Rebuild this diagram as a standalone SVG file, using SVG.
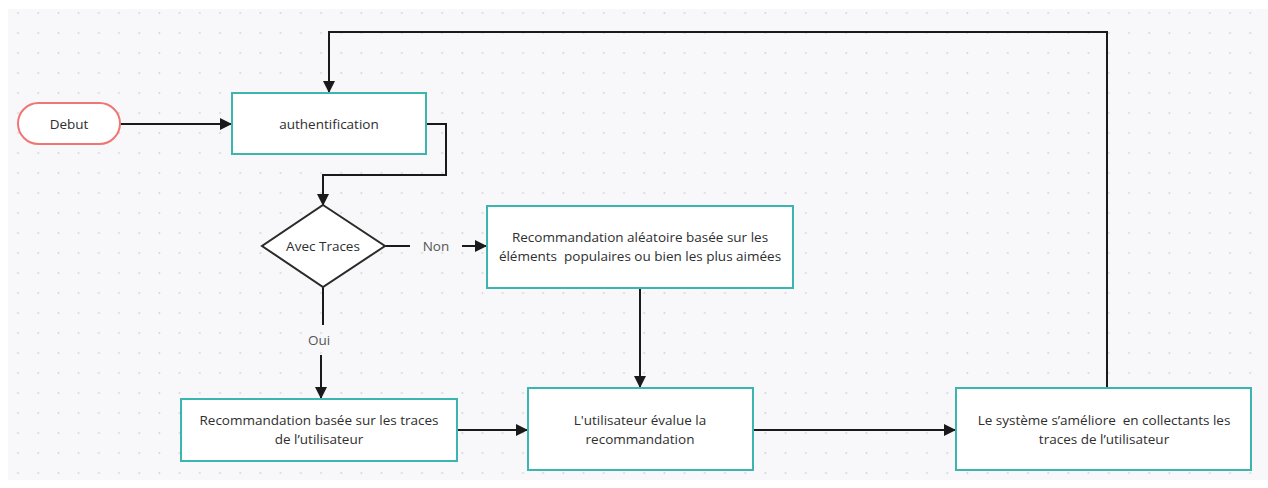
<svg xmlns="http://www.w3.org/2000/svg" width="1268" height="488" viewBox="0 0 1268 488">
<defs>
<pattern id="dots" x="8" y="3" width="20.2" height="20" patternUnits="userSpaceOnUse">
<circle cx="10" cy="10" r="1" fill="#d6d6dd"/>
</pattern>
<marker id="arr" viewBox="0 0 12 12" refX="11" refY="6" markerWidth="12" markerHeight="12" markerUnits="userSpaceOnUse" orient="auto">
<path d="M0,0 L12,6 L0,12 Z" fill="#1a1a1a"/>
</marker>
</defs>
<style>
.box{fill:#fff;stroke:#3bb5b0;stroke-width:2}
.start{fill:#fff;stroke:#f07575;stroke-width:2}
.dia{fill:#fff;stroke:#2a2a2a;stroke-width:2}
.t{font-family:"Open Sans","Noto Sans","Liberation Sans",sans-serif;font-size:13.5px;fill:#2e2e2e;text-anchor:middle;white-space:pre}
.lbl{font-family:"Open Sans","Noto Sans","Liberation Sans",sans-serif;font-size:13.5px;fill:#555;text-anchor:middle}
.c{fill:none;stroke:#1a1a1a;stroke-width:2}
</style>
<rect width="1268" height="488" fill="#fff"/>
<rect x="8" y="9" width="1260" height="471" fill="#f8f8fa"/>
<rect x="8" y="9" width="1260" height="471" fill="url(#dots)"/>

<g id="connectors">
<path class="c" d="M120,124 H231" marker-end="url(#arr)"/>
<path class="c" d="M426,124 H446 V175 H323 V205" marker-end="url(#arr)"/>
<path class="c" d="M1107,388 V32 H329 V92" marker-end="url(#arr)"/>
<path class="c" d="M385,246 H410"/>
<path class="c" d="M462,246 H486" marker-end="url(#arr)"/>
<text class="lbl" x="436" y="251">Non</text>
<path class="c" d="M323,287 V325"/>
<path class="c" d="M321,355 V398" marker-end="url(#arr)"/>
<text class="lbl" x="319" y="345">Oui</text>
<path class="c" d="M640,288 V387" marker-end="url(#arr)"/>
<path class="c" d="M457,430 H527" marker-end="url(#arr)"/>
<path class="c" d="M753,430 H955" marker-end="url(#arr)"/>
</g>

<g id="debut">
<rect class="start" x="18" y="103" width="102" height="41" rx="20.5"/>
<text class="t" x="69" y="129">Debut</text>
</g>
<g id="auth">
<rect class="box" x="232" y="93" width="194" height="61"/>
<text class="t" x="329" y="129">authentification</text>
</g>
<g id="decision">
<polygon class="dia" points="323,205 385,246 323,287 262,246"/>
<text class="t" x="323" y="251">Avec Traces</text>
</g>
<g id="reco-aleatoire">
<rect class="box" x="487" y="206" width="306" height="82"/>
<text class="t" x="640" y="242">Recommandation aléatoire basée sur les</text>
<text class="t" x="640" y="261">éléments  populaires ou bien les plus aimées</text>
</g>
<g id="reco-traces">
<rect class="box" x="181" y="399" width="276" height="62"/>
<text class="t" x="319" y="425">Recommandation basée sur les traces</text>
<text class="t" x="319" y="444">de l’utilisateur</text>
</g>
<g id="evalue">
<rect class="box" x="528" y="388" width="225" height="82"/>
<text class="t" x="640" y="425">L'utilisateur évalue la</text>
<text class="t" x="640" y="444">recommandation</text>
</g>
<g id="systeme">
<rect class="box" x="956" y="388" width="295" height="82"/>
<text class="t" x="1104" y="425">Le système s’améliore  en collectants les</text>
<text class="t" x="1104" y="444">traces de l’utilisateur</text>
</g>
</svg>
